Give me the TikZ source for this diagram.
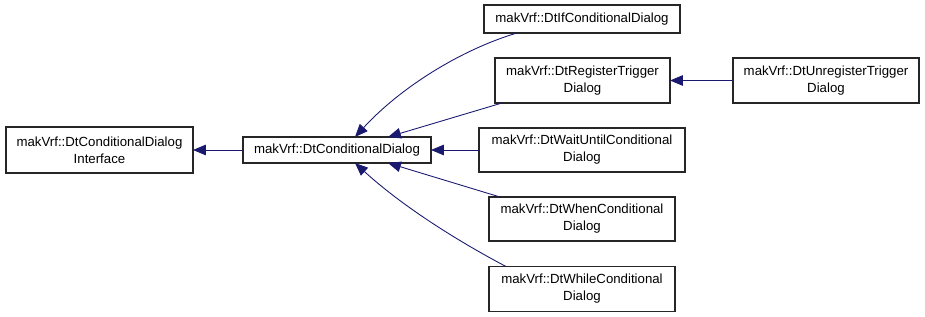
\documentclass[tikz,border=0pt]{standalone}
\usepackage{fontspec}
\setmainfont{Liberation Sans}
\definecolor{dxblue}{RGB}{25,25,112}
\usetikzlibrary{arrows.meta,calc}
\tikzset{
  classbox/.style={draw=black!85, line width=0.9pt, fill=white, align=center, inner sep=1pt, outer sep=0pt,
    font=\fontsize{11.3}{14.4}\selectfont},
  inherit/.style={draw=dxblue, line width=0.75pt, -{Triangle[length=11pt,width=9pt]}}
}

\begin{document}
\begin{tikzpicture}[x=0.03cm, y=-0.03cm]
  \useasboundingbox (0,0) rectangle (925,317);

  % Base classes
  \node[classbox, minimum width=5.61cm, minimum height=1.38cm] (iface) at (99.5,150) {makVrf::DtConditionalDialog\\Interface};
  \node[classbox, minimum width=5.64cm, minimum height=0.78cm] (cond) at (337,150) {makVrf::DtConditionalDialog};

  % Derived dialogs
  \node[classbox, minimum width=5.88cm, minimum height=0.84cm] (ifdlg) at (582,19) {makVrf::DtIfConditionalDialog};
  \node[classbox, minimum width=5.25cm, minimum height=1.35cm] (register) at (582.5,80.5) {makVrf::DtRegisterTrigger\\Dialog};
  \node[classbox, minimum width=6.18cm, minimum height=1.32cm] (waituntil) at (582,150) {makVrf::DtWaitUntilConditional\\Dialog};
  \node[classbox, minimum width=5.58cm, minimum height=1.32cm] (when) at (582,219) {makVrf::DtWhenConditional\\Dialog};
  \node[classbox, minimum width=5.58cm, minimum height=1.35cm] (while) at (582,289) {makVrf::DtWhileConditional\\Dialog};
  \node[classbox, minimum width=5.58cm, minimum height=1.35cm] (unregister) at (826,80.5) {makVrf::DtUnregisterTrigger\\Dialog};

  % Inheritance arrows
  \draw[inherit] (cond) -- (iface);
  \draw[inherit] (unregister) -- (register);
  \draw[inherit] (waituntil) -- (cond);
  \draw[inherit] ($(ifdlg.south west)+(33,0)$) .. controls (460,50) and (400,88) .. ($(cond.north)+(18,0)$);
  \draw[inherit] ($(register.south west)+(7,0)$) -- ($(cond.north)+(51,0)$);
  \draw[inherit] ($(when.north west)+(11,0)$) -- ($(cond.south)+(51,0)$);
  \draw[inherit] ($(while.north west)+(17,0)$) .. controls (452,238) and (400,204) .. ($(cond.south)+(18,0)$);
\end{tikzpicture}
\end{document}
